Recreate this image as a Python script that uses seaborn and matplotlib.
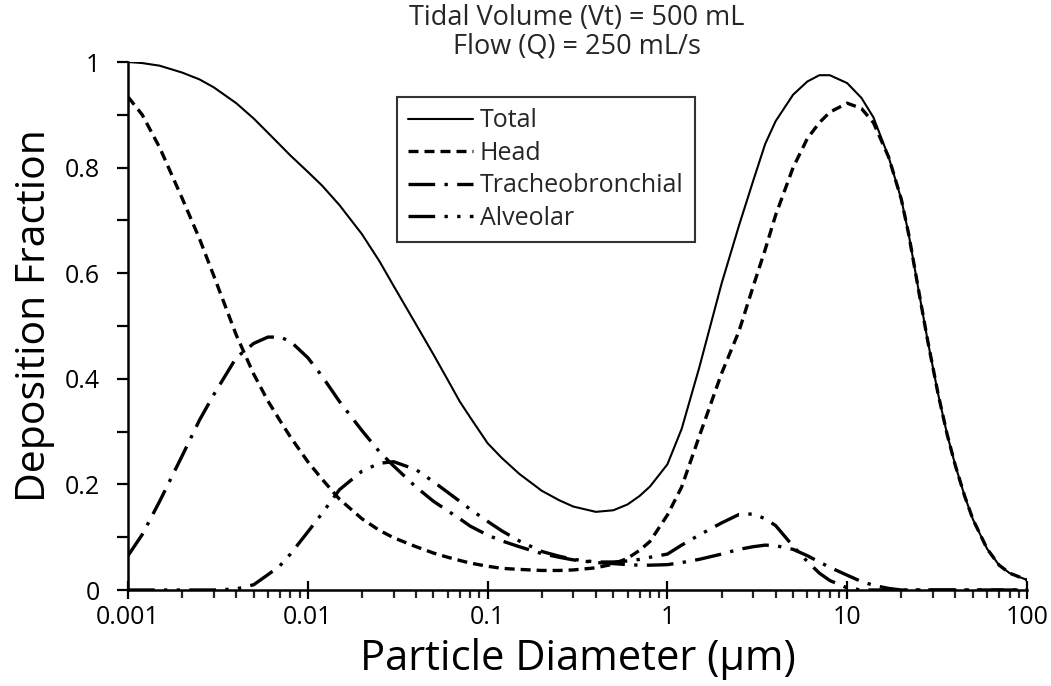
import numpy as np
import pandas as pd
import matplotlib
matplotlib.use("Agg")
import matplotlib.pyplot as plt
import seaborn as sns

# ---- data ----
diameter = [0.001, 0.0012, 0.0015, 0.002, 0.0025, 0.003, 0.004, 0.005, 0.006, 0.007, 0.008, 0.01,
            0.012, 0.015, 0.02, 0.025, 0.03, 0.04, 0.05, 0.06, 0.07, 0.08, 0.1,
            0.12, 0.15, 0.2, 0.25, 0.3, 0.4, 0.5, 0.6, 0.7, 0.8, 1,
            1.2, 1.5, 2, 2.5, 3, 3.5, 4, 5, 6, 7, 8, 10,
            12, 14, 17, 20, 22, 25, 28, 32, 36, 40, 45, 50, 60, 70, 80, 100]
total = [1.0, 0.998, 0.993, 0.980, 0.967, 0.952, 0.922, 0.893, 0.866, 0.843, 0.823, 0.792,
         0.766, 0.729, 0.674, 0.623, 0.576, 0.503, 0.446, 0.398, 0.357, 0.327, 0.278,
         0.250, 0.220, 0.188, 0.170, 0.158, 0.148, 0.151, 0.162, 0.178, 0.196, 0.238,
         0.305, 0.42, 0.58, 0.69, 0.775, 0.845, 0.888, 0.938, 0.963, 0.975, 0.975, 0.96,
         0.932, 0.895, 0.82, 0.74, 0.673, 0.566, 0.473, 0.372, 0.294, 0.235, 0.178, 0.134, 0.078, 0.047, 0.032, 0.019]
head = [0.934, 0.90, 0.838, 0.742, 0.665, 0.595, 0.483, 0.409, 0.358, 0.321, 0.29, 0.243,
        0.21, 0.172, 0.135, 0.113, 0.099, 0.082, 0.07, 0.062, 0.056, 0.051, 0.045,
        0.041, 0.039, 0.037, 0.037, 0.038, 0.042, 0.049, 0.06, 0.075, 0.092, 0.142,
        0.195, 0.29, 0.41, 0.49, 0.575, 0.645, 0.71, 0.80, 0.855, 0.885, 0.905, 0.922,
        0.912, 0.885, 0.82, 0.74, 0.673, 0.566, 0.473, 0.372, 0.294, 0.235, 0.178, 0.134, 0.078, 0.047, 0.032, 0.019]
tracheobronchial = [0.065, 0.105, 0.168, 0.254, 0.322, 0.37, 0.44, 0.467, 0.479, 0.479, 0.471, 0.44,
                    0.405, 0.357, 0.302, 0.262, 0.235, 0.195, 0.168, 0.15, 0.135, 0.121, 0.104,
                    0.093, 0.082, 0.069, 0.062, 0.057, 0.052, 0.05, 0.048, 0.047, 0.047, 0.048,
                    0.052, 0.058, 0.068, 0.077, 0.082, 0.085, 0.084, 0.077, 0.065, 0.053, 0.043, 0.028,
                    0.016, 0.009, 0.003, 0.0, 0.0, 0.0, 0.0, 0.0, 0.0, 0.0, 0.0, 0.0, 0.0, 0.0, 0.0, 0.0]
alveolar = [0.0, 0.0, 0.0, 0.0, 0.0, 0.0, 0.002, 0.01, 0.029, 0.046, 0.068, 0.11,
            0.145, 0.19, 0.225, 0.24, 0.243, 0.228, 0.205, 0.185, 0.168, 0.153, 0.13,
            0.112, 0.093, 0.073, 0.064, 0.058, 0.053, 0.053, 0.055, 0.058, 0.062, 0.068,
            0.085, 0.104, 0.127, 0.143, 0.144, 0.135, 0.122, 0.083, 0.054, 0.032, 0.018, 0.004,
            0.0, 0.0, 0.0, 0.0, 0.0, 0.0, 0.0, 0.0, 0.0, 0.0, 0.0, 0.0, 0.0, 0.0, 0.0, 0.0]

series_names = ["Total", "Head", "Tracheobronchial", "Alveolar"]
x_ticks = [0.001, 0.01, 0.1, 1, 10, 100]
x_tick_labels = ["0.001", "0.01", "0.1", "1", "10", "100"]
y_ticks = [0, 0.2, 0.4, 0.6, 0.8, 1]
y_tick_labels = ["0", "0.2", "0.4", "0.6", "0.8", "1"]

df = pd.DataFrame({
    "d": diameter * 4,
    "frac": total + head + tracheobronchial + alveolar,
    "region": sum([[n] * len(diameter) for n in series_names], []),
})

sns.set_style("ticks")
plt.rcParams["font.family"] = ["Open Sans", "DejaVu Sans"]

fig = plt.figure(figsize=(10.51, 6.86), dpi=100)
ax = fig.add_axes([128 / 1051, 1 - 590 / 686, (1027 - 128) / 1051, (590 - 62) / 686])

styles = {
    "Total": dict(lw=1.5, ls="-"),
    "Head": dict(lw=2.4, ls=(0, (3, 1.8))),
    "Tracheobronchial": dict(lw=2.4, ls=(0, (8, 2.8, 1, 2.8))),
    "Alveolar": dict(lw=2.4, ls=(0, (8, 2.8, 1, 2.8, 1, 2.8))),
}
for name in series_names:
    sub = df[df["region"] == name]
    sns.lineplot(data=sub, x="d", y="frac", ax=ax, color="black",
                 linewidth=styles[name]["lw"], linestyle=styles[name]["ls"],
                 label=name, estimator=None, sort=True)

ax.set_xscale("log")
ax.set_xlim(0.001, 100)
ax.set_ylim(0, 1)
ax.set_xticks(x_ticks)
ax.set_xticklabels(x_tick_labels)
ax.set_yticks(y_ticks)
ax.set_yticklabels(y_tick_labels)
ax.set_yticks([0.1, 0.3, 0.5, 0.7, 0.9], minor=True)
ax.xaxis.set_minor_locator(matplotlib.ticker.LogLocator(base=10, subs=np.arange(2, 10)))
ax.xaxis.set_minor_formatter(matplotlib.ticker.NullFormatter())

ax.tick_params(axis="x", which="major", direction="inout", length=13, width=1.6,
               labelsize=18, pad=4, colors="black")
ax.tick_params(axis="x", which="minor", direction="out", length=6, width=1.6)
ax.tick_params(axis="y", which="both", direction="out", length=8, width=1.6,
               labelsize=18, pad=12, colors="black")

sns.despine(ax=ax)
for s in ["left", "bottom"]:
    ax.spines[s].set_linewidth(1.8)
    ax.spines[s].set_color("black")

ax.set_xlabel("Particle Diameter (µm)", fontsize=30, labelpad=6, color="black")
ax.set_ylabel("Deposition Fraction", fontsize=29.5, color="black")
ax.yaxis.set_label_coords(-0.081, 0.52)

fig.text(577 / 1051, 1 - 18 / 686, "Tidal Volume (Vt) = 500 mL", ha="center", va="center", fontsize=19.5)
fig.text(577 / 1051, 1 - 46 / 686, "Flow (Q) = 250 mL/s", ha="center", va="center", fontsize=19.5)

leg = ax.legend(loc="upper left", bbox_to_anchor=(397 / 1051, 1 - 97 / 686),
                bbox_transform=fig.transFigure, borderaxespad=0, frameon=True,
                fancybox=False, fontsize=18, handlelength=2.6, labelspacing=0.3,
                handletextpad=0.25, borderpad=0.45)
leg.get_frame().set_edgecolor("black")
leg.get_frame().set_linewidth(1.5)

fig.savefig("out.png", dpi=100)
